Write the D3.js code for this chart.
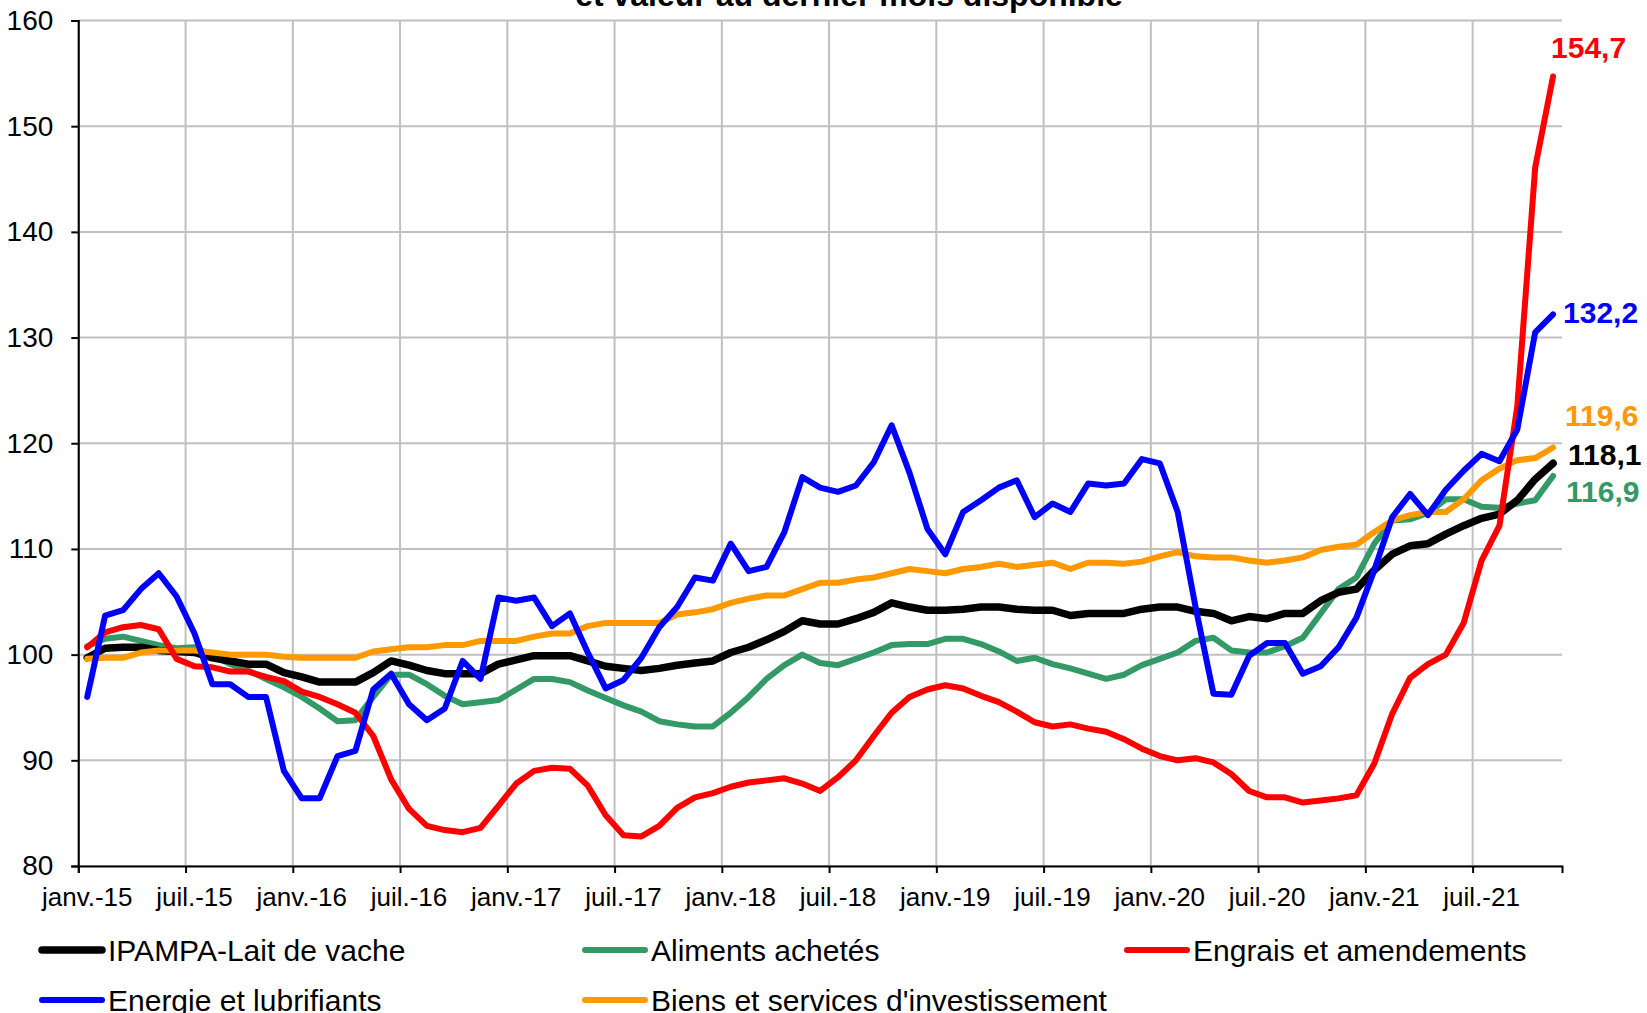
<!DOCTYPE html>
<html>
<head>
<meta charset="utf-8">
<script src="https://cdn.jsdelivr.net/npm/d3@7"></script>
<style>
  body { margin: 0; background: #fff; }
  text { font-family: "Liberation Sans", Arial, sans-serif; }
</style>
</head>
<body>
<div id="chart"></div>
<script>
// monthly index, janv.-15 .. nov.-21 (83 months)
const tickLabels = ["janv.-15", "juil.-15", "janv.-16", "juil.-16", "janv.-17", "juil.-17", "janv.-18",
    "juil.-18", "janv.-19", "juil.-19", "janv.-20", "juil.-20", "janv.-21", "juil.-21"];

const lait = [99.7, 100.6, 100.7, 100.7, 100.4, 100.3, 100.2, 99.7, 99.4, 99.1, 99.1, 98.3,
    97.9, 97.4, 97.4, 97.4, 98.3, 99.4, 99.0, 98.5, 98.2, 98.2, 98.2, 99.1,
    99.5, 99.9, 99.9, 99.9, 99.4, 98.9, 98.7, 98.5, 98.7, 99.0, 99.2, 99.4,
    100.2, 100.7, 101.4, 102.2, 103.2, 102.9, 102.9, 103.4, 104.0, 104.9, 104.5, 104.2,
    104.2, 104.3, 104.5, 104.5, 104.3, 104.2, 104.2, 103.7, 103.9, 103.9, 103.9, 104.3,
    104.5, 104.5, 104.1, 103.9, 103.2, 103.6, 103.4, 103.9, 103.9, 105.1, 105.9, 106.2,
    108.0, 109.5, 110.3, 110.5, 111.4, 112.2, 112.9, 113.3, 114.6, 116.6, 118.1];

const aliments = [100.8, 101.5, 101.7, 101.3, 100.9, 100.6, 100.7, 99.9, 99.1, 98.5, 97.7, 96.9,
    96.0, 94.9, 93.7, 93.8, 96.0, 98.1, 98.1, 97.2, 96.1, 95.3, 95.5, 95.7,
    96.7, 97.7, 97.7, 97.4, 96.6, 95.9, 95.2, 94.6, 93.7, 93.4, 93.2, 93.2,
    94.5, 96.0, 97.7, 99.0, 100.0, 99.2, 99.0, 99.6, 100.2, 100.9, 101.0, 101.0,
    101.5, 101.5, 101.0, 100.3, 99.4, 99.7, 99.1, 98.7, 98.2, 97.7, 98.1, 99.0,
    99.6, 100.2, 101.3, 101.6, 100.4, 100.2, 100.2, 100.8, 101.6, 103.9, 106.2, 107.3,
    110.5, 112.7, 112.8, 113.4, 114.7, 114.7, 114.0, 113.9, 114.3, 114.6, 116.9];

const engrais = [100.7, 102.1, 102.6, 102.8, 102.4, 99.6, 98.9, 98.8, 98.4, 98.4, 97.9, 97.5,
    96.5, 96.0, 95.3, 94.5, 92.3, 88.2, 85.4, 83.8, 83.4, 83.2, 83.6, 85.7,
    87.8, 89.0, 89.3, 89.2, 87.6, 84.8, 82.9, 82.8, 83.8, 85.5, 86.5, 86.9,
    87.5, 87.9, 88.1, 88.3, 87.8, 87.1, 88.4, 90.0, 92.3, 94.5, 96.0, 96.7,
    97.1, 96.8, 96.1, 95.5, 94.6, 93.6, 93.2, 93.4, 93.0, 92.7, 92.0, 91.1,
    90.4, 90.0, 90.2, 89.8, 88.7, 87.1, 86.5, 86.5, 86.0, 86.2, 86.4, 86.7,
    89.7, 94.4, 97.8, 99.1, 100.0, 103.0, 108.9, 112.2, 123.5, 146.1, 154.7];

const energie = [96.0, 103.7, 104.2, 106.2, 107.7, 105.5, 102.0, 97.2, 97.2, 96.0, 96.0, 89.0,
    86.4, 86.4, 90.4, 90.9, 96.7, 98.2, 95.3, 93.8, 94.9, 99.4, 97.7, 105.4,
    105.1, 105.4, 102.7, 103.9, 100.2, 96.8, 97.6, 99.7, 102.6, 104.5, 107.3, 107.0,
    110.5, 107.9, 108.3, 111.6, 116.8, 115.8, 115.4, 116.0, 118.2, 121.7, 117.2, 111.9,
    109.5, 113.5, 114.6, 115.8, 116.5, 113.0, 114.3, 113.5, 116.2, 116.0, 116.2, 118.5,
    118.1, 113.5, 104.5, 96.3, 96.2, 99.9, 101.1, 101.1, 98.2, 98.9, 100.7, 103.5,
    108.0, 113.0, 115.2, 113.2, 115.6, 117.4, 119.0, 118.3, 121.3, 130.5, 132.2];

const biens = [99.6, 99.7, 99.7, 100.2, 100.4, 100.4, 100.4, 100.2, 100.0, 100.0, 100.0, 99.8,
    99.7, 99.7, 99.7, 99.7, 100.3, 100.5, 100.7, 100.7, 100.9, 100.9, 101.3, 101.3,
    101.3, 101.7, 102.0, 102.0, 102.7, 103.0, 103.0, 103.0, 103.0, 103.8, 104.0, 104.3,
    104.9, 105.3, 105.6, 105.6, 106.2, 106.8, 106.8, 107.1, 107.3, 107.7, 108.1, 107.9,
    107.7, 108.1, 108.3, 108.6, 108.3, 108.5, 108.7, 108.1, 108.7, 108.7, 108.6, 108.8,
    109.3, 109.7, 109.3, 109.2, 109.2, 108.9, 108.7, 108.9, 109.2, 109.9, 110.2, 110.4,
    111.6, 112.7, 113.2, 113.5, 113.5, 114.7, 116.5, 117.6, 118.4, 118.6, 119.6];

const seriesNames = ["IPAMPA-Lait de vache", "Aliments achetés", "Engrais et amendements",
    "Energie et lubrifiants", "Biens et services d'investissement"];

const series = [
    { name: seriesNames[0], values: lait, color: "#000000", width: 7.5, lab: [15, 2] },
    { name: seriesNames[1], values: aliments, color: "#339966", width: 6, lab: [13, 26] },
    { name: seriesNames[2], values: engrais, color: "#ff0000", width: 6, lab: [-2, -19] },
    { name: seriesNames[3], values: energie, color: "#0000ff", width: 6, lab: [10, 9] },
    { name: seriesNames[4], values: biens, color: "#ff9900", width: 6, lab: [12, -21] }
];

const width = 1647, height = 1013;
const margin = { top: 20.5, right: 85, bottom: 147, left: 78.3 };
const nMonths = lait.length;

const svg = d3.select("#chart").append("svg")
    .attr("width", width)
    .attr("height", height);

const xScale = d3.scaleLinear().domain([0, nMonths]).range([margin.left, width - margin.right]);
const yScale = d3.scaleLinear().domain([80, 160]).range([height - margin.bottom, margin.top]);

// title, only its lower part shows
svg.append("text")
    .attr("x", 849)
    .attr("y", 6)
    .attr("text-anchor", "middle")
    .attr("font-size", 32)
    .attr("font-weight", "bold")
    .text("et valeur au dernier mois disponible");

// grid
const yTicks = d3.range(80, 161, 10);
svg.append("g")
    .selectAll("line")
    .data(yTicks)
    .join("line")
    .attr("x1", xScale(0))
    .attr("x2", xScale(nMonths))
    .attr("y1", d => yScale(d))
    .attr("y2", d => yScale(d))
    .attr("stroke", "#c0c0c0")
    .attr("stroke-width", 2);

const xTicks = tickLabels.map((t, i) => i * 6);
svg.append("g")
    .selectAll("line")
    .data(xTicks)
    .join("line")
    .attr("x1", d => xScale(d))
    .attr("x2", d => xScale(d))
    .attr("y1", yScale(80))
    .attr("y2", yScale(160))
    .attr("stroke", "#c0c0c0")
    .attr("stroke-width", 2);

// axes
svg.append("g")
    .attr("transform", `translate(${margin.left},0)`)
    .call(d3.axisLeft(yScale).tickValues(yTicks).tickSize(7).tickPadding(18).tickFormat(d3.format("d")))
    .call(g => g.select(".domain").attr("stroke-width", 2))
    .call(g => g.selectAll(".tick line").attr("stroke-width", 2))
    .call(g => g.selectAll("text").attr("font-size", 28).attr("fill", "#000")
        .attr("font-family", "'Liberation Sans', Arial, sans-serif"));

svg.append("g")
    .attr("transform", `translate(0,${yScale(80)})`)
    .call(d3.axisBottom(xScale).tickValues(xTicks).tickSize(7).tickFormat(""))
    .call(g => g.select(".domain").attr("stroke-width", 2))
    .call(g => g.selectAll(".tick line").attr("stroke-width", 2));

svg.append("g")
    .selectAll("text")
    .data(tickLabels)
    .join("text")
    .attr("x", (d, i) => xScale(i * 6 + 0.5))
    .attr("y", 906)
    .attr("text-anchor", "middle")
    .attr("font-size", 26)
    .text(d => d);

// lines
const line = d3.line()
    .x((d, i) => xScale(i + 0.5))
    .y(d => yScale(d));

const drawOrder = [1, 0, 4, 2, 3];
svg.append("g")
    .selectAll("path")
    .data(drawOrder.map(k => series[k]))
    .join("path")
    .attr("d", d => line(d.values))
    .attr("fill", "none")
    .attr("stroke", d => d.color)
    .attr("stroke-width", d => d.width)
    .attr("stroke-linejoin", "round")
    .attr("stroke-linecap", "round");

// end values
const fr = v => d3.format(".1f")(v).replace(".", ",");
svg.append("g")
    .selectAll("text")
    .data(series)
    .join("text")
    .attr("x", d => xScale(nMonths - 0.5) + d.lab[0])
    .attr("y", d => yScale(d.values[nMonths - 1]) + d.lab[1])
    .attr("font-size", 30)
    .attr("font-weight", "bold")
    .attr("fill", d => d.color)
    .text(d => fr(d.values[nMonths - 1]));

// legend
const legendPos = [[42, 950], [585, 950], [1127, 950], [42, 1000], [585, 1000]];
const legend = svg.append("g")
    .selectAll("g")
    .data(series)
    .join("g")
    .attr("transform", (d, i) => `translate(${legendPos[i][0]},${legendPos[i][1]})`);

legend.append("line")
    .attr("x1", 0)
    .attr("x2", 60)
    .attr("stroke", d => d.color)
    .attr("stroke-width", d => d.width)
    .attr("stroke-linecap", "round");

legend.append("text")
    .attr("x", 66)
    .attr("y", 11)
    .attr("font-size", 30)
    .text(d => d.name);
</script>
</body>
</html>
